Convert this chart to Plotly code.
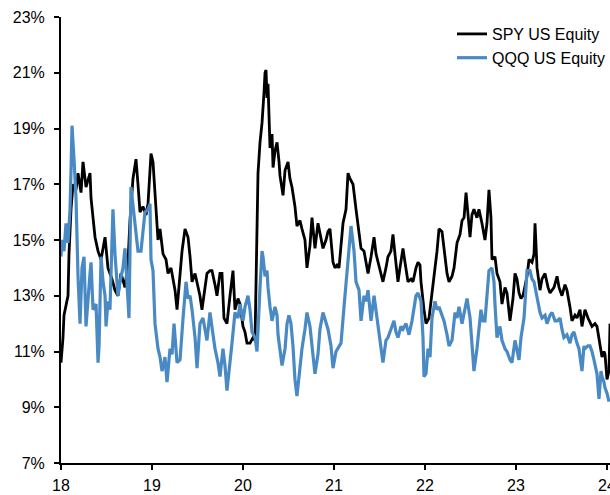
import plotly.graph_objects as go

# Decimal years (18.0 = start of 2018) and implied vol (%)
spy_t = [18.000,18.022,18.033,18.055,18.077,18.088,18.110,18.132,18.165,18.187,18.220,18.242,18.275,18.319,18.330,18.374,18.407,18.440,18.484,18.516,18.560,18.593,18.626,18.659,18.703,18.736,18.758,18.791,18.824,18.846,18.868,18.901,18.934,18.956,18.989,
         19.011,19.033,19.066,19.088,19.121,19.154,19.176,19.209,19.231,19.253,19.275,19.308,19.330,19.363,19.396,19.418,19.440,19.473,19.495,19.527,19.549,19.582,19.604,19.637,19.659,19.692,19.714,19.747,19.769,19.791,19.824,19.857,19.890,19.912,19.945,19.967,
         20.000,20.022,20.044,20.077,20.110,20.132,20.154,20.165,20.187,20.209,20.231,20.242,20.253,20.264,20.275,20.297,20.319,20.330,20.352,20.374,20.396,20.407,20.440,20.462,20.495,20.516,20.538,20.571,20.593,20.626,20.648,20.681,20.703,20.736,20.758,20.780,20.791,20.824,20.846,20.879,20.912,20.934,20.956,20.989,
         21.011,21.033,21.055,21.077,21.099,21.132,21.154,21.176,21.209,21.242,21.264,21.297,21.330,21.352,21.374,21.407,21.440,21.462,21.484,21.516,21.538,21.571,21.593,21.626,21.648,21.670,21.703,21.725,21.758,21.780,21.813,21.846,21.868,21.901,21.923,21.945,21.956,21.989,
         22.011,22.044,22.077,22.099,22.132,22.154,22.187,22.220,22.242,22.264,22.297,22.319,22.352,22.385,22.407,22.429,22.451,22.473,22.495,22.516,22.538,22.571,22.593,22.626,22.659,22.681,22.703,22.725,22.736,22.769,22.791,22.824,22.846,22.879,22.901,22.934,22.967,22.989,
         23.011,23.033,23.055,23.077,23.099,23.121,23.143,23.176,23.198,23.209,23.231,23.264,23.286,23.319,23.352,23.374,23.418,23.451,23.473,23.505,23.538,23.560,23.593,23.615,23.648,23.670,23.703,23.725,23.758,23.791,23.835,23.868,23.890,23.923,23.945,23.967,23.978,24.000,24.022,24.033]
spy_v = [10.6,11.5,12.3,12.6,13.0,14.5,16.1,17.0,16.8,17.4,16.7,17.8,16.9,17.4,16.5,15.1,14.6,14.3,15.1,14.0,13.6,13.2,13.0,13.8,13.3,14.2,15.7,17.2,17.9,17.0,16.0,16.2,15.9,16.3,18.1,
         17.8,16.7,15.0,15.4,14.5,14.3,13.8,14.0,13.6,13.2,12.5,13.8,14.6,15.4,15.1,14.4,13.5,13.8,13.5,13.0,12.5,13.2,13.8,13.9,13.9,13.4,13.0,13.8,13.8,12.2,12.0,13.0,13.9,12.5,12.9,12.7,
         11.9,11.7,11.3,11.3,11.5,11.4,15.1,17.4,18.5,19.2,20.3,21.0,21.1,20.1,20.6,18.3,18.8,17.6,18.2,18.5,17.8,17.3,16.6,17.5,17.8,17.2,16.9,16.2,15.5,15.7,15.4,15.0,14.0,14.8,15.8,15.0,14.7,15.6,15.2,14.7,15.0,15.3,15.4,14.2,
         14.0,14.1,14.0,14.8,15.6,16.1,17.4,17.2,17.0,16.1,15.6,14.7,14.6,14.2,13.8,14.4,15.1,14.5,14.2,13.8,13.5,14.0,14.4,14.6,15.2,14.5,13.5,14.0,14.7,14.2,13.5,13.6,13.5,14.0,14.2,14.1,13.5,12.5,
         12.0,12.2,13.0,13.7,14.6,15.4,15.3,14.3,13.8,13.5,13.7,14.0,14.9,15.2,15.7,15.8,16.7,15.9,15.1,15.9,16.1,15.8,16.1,15.6,15.0,15.6,16.8,15.8,14.3,14.4,13.8,13.5,12.7,13.3,13.1,12.1,12.9,13.8,
         13.6,13.1,12.9,13.0,13.3,13.7,14.3,14.2,14.5,15.6,14.0,13.2,13.6,13.8,13.3,13.1,13.3,13.7,13.3,13.0,13.4,13.2,12.6,12.1,12.3,12.2,12.5,11.9,12.5,12.2,11.9,12.0,11.9,11.3,10.8,11.0,10.9,10.0,10.3,12.0]

qqq_t = [18.000,18.011,18.033,18.044,18.055,18.077,18.099,18.110,18.121,18.143,18.165,18.187,18.209,18.231,18.253,18.275,18.297,18.319,18.330,18.352,18.385,18.407,18.418,18.440,18.462,18.484,18.495,18.516,18.538,18.571,18.593,18.604,18.626,18.648,18.681,18.703,18.725,18.747,18.769,18.791,18.813,18.846,18.879,18.901,18.923,18.956,18.978,18.989,
         19.011,19.033,19.066,19.088,19.110,19.132,19.143,19.165,19.198,19.220,19.242,19.275,19.308,19.341,19.374,19.396,19.418,19.440,19.473,19.495,19.527,19.560,19.582,19.604,19.637,19.670,19.692,19.725,19.747,19.780,19.802,19.824,19.857,19.879,19.912,19.945,19.967,
         20.000,20.022,20.055,20.077,20.099,20.132,20.154,20.187,20.209,20.220,20.242,20.264,20.275,20.297,20.319,20.352,20.374,20.385,20.407,20.429,20.462,20.484,20.505,20.527,20.549,20.571,20.593,20.626,20.648,20.681,20.703,20.736,20.758,20.791,20.824,20.846,20.879,20.912,20.934,20.967,20.989,
         21.022,21.044,21.077,21.110,21.132,21.154,21.187,21.220,21.242,21.275,21.297,21.330,21.352,21.374,21.407,21.440,21.484,21.516,21.538,21.571,21.593,21.626,21.659,21.681,21.703,21.736,21.758,21.791,21.824,21.857,21.879,21.901,21.923,21.956,21.978,21.989,
         22.011,22.033,22.055,22.077,22.110,22.132,22.154,22.176,22.209,22.242,22.264,22.297,22.330,22.352,22.374,22.407,22.429,22.462,22.495,22.516,22.538,22.571,22.593,22.615,22.637,22.659,22.681,22.703,22.736,22.758,22.769,22.791,22.824,22.846,22.879,22.901,22.934,22.956,22.989,
         23.011,23.033,23.055,23.088,23.110,23.121,23.154,23.176,23.198,23.231,23.264,23.286,23.319,23.341,23.374,23.396,23.429,23.451,23.484,23.505,23.527,23.560,23.593,23.615,23.637,23.670,23.692,23.725,23.747,23.758,23.791,23.813,23.835,23.857,23.890,23.912,23.934,23.945,23.967,23.978,24.000,24.022]
qqq_v = [14.4,15.0,14.6,15.1,15.6,14.9,16.1,17.5,19.1,17.9,16.5,13.7,12.0,14.0,14.4,11.9,13.0,13.8,14.2,12.5,12.7,10.6,11.2,14.4,13.5,13.0,11.9,12.8,12.5,16.1,14.5,13.9,13.0,13.5,14.0,14.7,13.5,12.2,16.9,16.3,15.7,14.6,14.6,15.4,16.0,16.1,16.3,14.3,
         13.9,12.0,11.1,10.8,10.3,10.6,10.8,9.9,11.1,10.9,12.0,10.6,10.7,12.2,13.5,12.9,13.0,12.5,11.5,10.4,12.0,12.2,11.8,11.4,12.4,11.5,11.1,10.6,10.1,11.1,10.5,9.6,10.5,11.3,12.4,12.2,12.7,
         12.1,12.6,13.0,12.5,11.7,11.5,11.0,13.3,14.6,14.4,13.7,13.9,13.3,12.6,12.1,12.6,12.3,11.6,11.0,10.5,11.1,12.0,12.3,12.0,11.2,10.0,9.4,10.4,11.1,11.8,12.4,11.9,11.3,10.2,10.9,11.8,12.4,12.0,11.8,11.2,10.4,
         11.0,11.1,11.3,12.6,13.4,14.4,15.5,14.6,13.5,13.2,12.1,13.0,12.8,13.2,12.1,13.0,12.0,11.2,10.6,11.4,11.5,11.8,12.1,11.7,11.5,11.9,11.8,12.0,11.6,12.1,12.6,13.0,13.1,12.8,11.5,10.1,
         10.2,11.1,10.8,12.2,12.8,12.5,12.6,12.4,12.1,11.6,11.2,11.4,12.4,12.2,12.6,12.0,12.4,12.9,12.2,11.3,10.3,11.1,11.8,12.5,12.1,12.1,13.0,13.9,14.0,13.5,12.7,11.5,11.9,11.4,11.1,11.0,10.7,10.6,11.4,
         11.0,10.7,11.5,12.2,13.3,13.9,13.9,13.6,13.5,12.9,12.4,12.2,12.3,12.0,12.3,12.4,12.1,12.1,12.2,11.8,11.5,11.6,11.3,11.6,11.7,11.3,11.1,10.3,11.2,11.1,11.2,11.2,11.0,10.7,10.2,9.3,10.3,10.1,9.9,9.7,9.5,9.2]

year_ticks = [18, 19, 20, 21, 22, 23, 24]
year_labels = ["18", "19", "20", "21", "22", "23", "24"]
pct_ticks = [7, 9, 11, 13, 15, 17, 19, 21, 23]
pct_labels = ["7%", "9%", "11%", "13%", "15%", "17%", "19%", "21%", "23%"]

FONT = "Liberation Sans, Arial, sans-serif"

fig = go.Figure()
fig.add_trace(go.Scatter(x=spy_t, y=spy_v, mode="lines", name="SPY US Equity",
                         line=dict(color="#000000", width=2.8)))
fig.add_trace(go.Scatter(x=qqq_t, y=qqq_v, mode="lines", name="QQQ US Equity",
                         line=dict(color="#4A8AC4", width=3.2)))

fig.update_layout(
    width=610, height=495,
    margin=dict(l=61, r=0, t=17, b=32, autoexpand=False),
    paper_bgcolor="white", plot_bgcolor="white",
    font=dict(family=FONT, size=16, color="#000000"),
    showlegend=True,
    legend=dict(x=1.0, xanchor="right", y=1.0, yanchor="top",
                bgcolor="rgba(0,0,0,0)", font=dict(size=16),
                tracegroupgap=0, itemwidth=30),
)
fig.update_xaxes(range=[18, 24.033], tickvals=year_ticks, ticktext=year_labels,
                 showgrid=False, zeroline=False, showline=True, linecolor="#000000", linewidth=2,
                 ticks="outside", ticklen=5, tickwidth=1.5, tickcolor="#000000",
                 tickfont=dict(size=16), ticklabeloverflow="allow", ticklabelstandoff=2)
fig.update_yaxes(range=[7, 23], tickvals=pct_ticks, ticktext=pct_labels,
                 showgrid=False, zeroline=False, showline=True, linecolor="#000000", linewidth=2,
                 ticks="outside", ticklen=5, tickwidth=1.5, tickcolor="#000000",
                 tickfont=dict(size=16), ticklabeloverflow="allow", ticklabelstandoff=6)

fig.write_html("out.html", config={"displayModeBar": False},
               post_script="document.body.style.margin='0';")
